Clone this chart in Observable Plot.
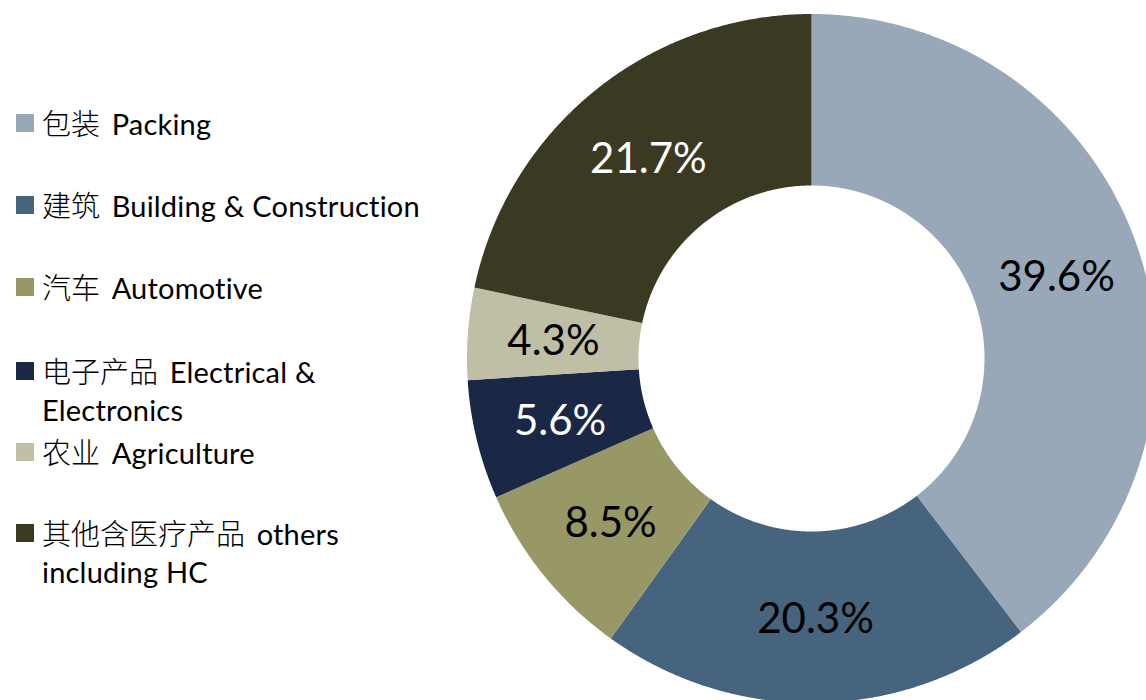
<!DOCTYPE html>
<html>
<head>
<meta charset="utf-8">
<script src="https://cdn.jsdelivr.net/npm/d3@7"></script>
<script src="https://cdn.jsdelivr.net/npm/@observablehq/plot@0.6"></script>
<style>
  html, body { margin: 0; padding: 0; background: #fff; }
  #wrap { position: relative; width: 1146px; height: 700px; overflow: hidden; }
  #wrap svg { position: absolute; left: 0; top: 0; }
  .leg { position: absolute; left: 0; font-family: Lato, "Noto Sans CJK SC", sans-serif; font-size: 29px; line-height: 38px; color: #000; white-space: nowrap; font-variant-ligatures: none; letter-spacing: 0.2px; }
  .leg .sw { position: absolute; left: 16px; width: 18px; height: 18px; }
  .leg .tx { position: absolute; left: 42px; top: 0; }
  .cjk { font-family: "Noto Sans CJK SC", sans-serif; font-weight: 300; font-size: 29px; margin-right: 4px; letter-spacing: 0; }
</style>
</head>
<body>
<div id="wrap"></div>
<script>
// ---- data ----
const categoriesCN = ["包装", "建筑", "汽车", "电子产品", "农业", "其他含医疗产品"];
const categoriesEN = ["Packing", "Building & Construction", "Automotive", "Electrical & Electronics", "Agriculture", "others including HC"];
const shares = [39.6, 20.3, 8.5, 5.6, 4.3, 21.7];
const colors = ["#98a8b9", "#47647f", "#979866", "#1b2845", "#bebfa4", "#3a3a22"];
const labelColors = ["#000", "#000", "#000", "#fff", "#000", "#fff"];
const legendLines = [
  ["Packing"],
  ["Building & Construction"],
  ["Automotive"],
  ["Electrical &", "Electronics"],
  ["Agriculture"],
  ["others", "including HC"]
];

// ---- layout ----
const W = 1146, H = 700;
const cx = 811, cy = 358, R = 344.5, r0 = 173;
const inner = r0 / R;

const slices = d3.pie().sort(null).value(d => d.value)(
  shares.map((v, i) => ({name: categoriesEN[i], value: v, i}))
);

// polygon points for each slice in unit coordinates (angle 0 at top, clockwise)
const pts = [];
for (const s of slices) {
  const n = Math.max(8, Math.ceil((s.endAngle - s.startAngle) / 0.005));
  const outer = d3.range(n + 1).map(k => s.startAngle + (s.endAngle - s.startAngle) * k / n);
  for (const a of outer) pts.push({name: s.data.name, x: Math.sin(a), y: Math.cos(a)});
  for (const a of outer.slice().reverse()) pts.push({name: s.data.name, x: inner * Math.sin(a), y: inner * Math.cos(a)});
}
const mid = (1 + inner) / 2;
const labels = slices.map(s => {
  const a = (s.startAngle + s.endAngle) / 2;
  return {name: s.data.name, text: s.data.value.toFixed(1) + "%", x: mid * Math.sin(a), y: mid * Math.cos(a), c: labelColors[s.data.i]};
});

const chart = Plot.plot({
  width: W, height: H,
  margin: 0,
  x: {domain: [(0 - cx) / R, (W - cx) / R], range: [0, W], axis: null},
  y: {domain: [(cy - H) / R, cy / R], range: [H, 0], axis: null},
  color: {domain: categoriesEN, range: colors},
  style: {background: "#fff"},
  marks: [
    Plot.line(pts, {x: "x", y: "y", z: "name", fill: "name", stroke: null, curve: "linear"}),
    Plot.text(labels, {x: "x", y: "y", text: "text", fill: d => d.c, fontSize: 42, fontFamily: "Lato, sans-serif", textAnchor: "middle", dy: 2})
  ]
});
const wrap = document.getElementById("wrap");
wrap.appendChild(chart);

// ---- legend (HTML) ----
const baselines = [133, 215, 297, 381, 462, 543];
categoriesEN.forEach((_, i) => {
  const div = document.createElement("div");
  div.className = "leg";
  const top = baselines[i] - 30;
  div.style.top = top + "px";
  const sw = document.createElement("span");
  sw.className = "sw";
  sw.style.background = colors[i];
  sw.style.top = "11px";
  div.appendChild(sw);
  const tx = document.createElement("span");
  tx.className = "tx";
  const lines = legendLines[i];
  tx.innerHTML = '<span class="cjk">' + categoriesCN[i] + '</span> ' + lines[0] + (lines.length > 1 ? "<br>" + lines[1] : "");
  div.appendChild(tx);
  wrap.appendChild(div);
});
</script>
</body>
</html>
